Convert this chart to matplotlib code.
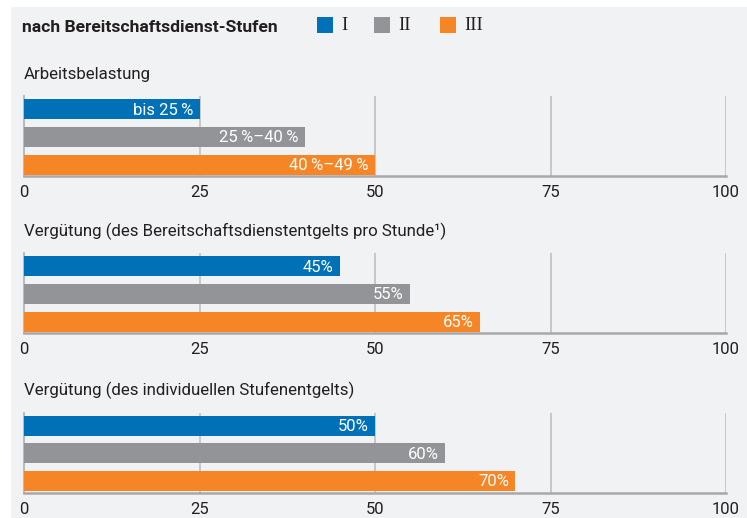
import matplotlib.pyplot as plt
from matplotlib.patches import Rectangle

# data
STUFEN = ["I", "II", "III"]
PANELS = ["Arbeitsbelastung",
          "Vergütung (des Bereitschaftsdienstentgelts pro Stunde\u00b9)",
          "Vergütung (des individuellen Stufenentgelts)"]
BELASTUNG = [25, 40, 50]
BELASTUNG_LBL = ["bis 25\u2009%", "25\u2009%\u201340\u2009%", "40\u2009%\u201349\u2009%"]
VERG_STUNDE = [45, 55, 65]
VERG_STUNDE_LBL = ["45%", "55%", "65%"]
VERG_STUFE = [50, 60, 70]
VERG_STUFE_LBL = ["50%", "60%", "70%"]
TICKS = [0, 25, 50, 75, 100]

COLORS = ["#0071b7", "#929497", "#f58525"]
BG = "#f1f2f4"
TXT = "#231f20"
FONT = ["Roboto", "DejaVu Sans"]

plt.rcParams['font.family'] = FONT

W, H = 747, 518
fig = plt.figure(figsize=(W / 100, H / 100), dpi=100)
fig.patch.set_facecolor("white")
fig.patches.append(Rectangle((11 / W, 0), 1 - 11 / W, 1 - 7 / H,
                             transform=fig.transFigure, facecolor=BG,
                             edgecolor="none", zorder=-10))

# header + legend
fig.text(22 / W, 1 - 27 / H, "nach Bereitschaftsdienst-Stufen", fontsize=12.6,
         fontweight="bold", color=TXT, va="center", ha="left")
leg_x = [317, 374, 440]
for x, c, s in zip(leg_x, COLORS, STUFEN):
    fig.patches.append(Rectangle((x / W, 1 - 33 / H), 16 / W, 16 / H,
                                 transform=fig.transFigure, facecolor=c,
                                 edgecolor="none"))
    fig.text((x + 24) / W, 1 - 26 / H, s, fontsize=13.5,
             family=["Liberation Serif", "DejaVu Serif"], color=TXT,
             va="center", ha="left")

# panels: (bottom px, values, labels)
panel_data = [(176, BELASTUNG, BELASTUNG_LBL),
              (333, VERG_STUNDE, VERG_STUNDE_LBL),
              (492.5, VERG_STUFE, VERG_STUFE_LBL)]

x0, x1 = 24, 726
for title, (bot, vals, lbls) in zip(PANELS, panel_data):
    ax = fig.add_axes([x0 / W, 1 - bot / H, (x1 - x0) / W, 80 / H])
    ax.set_facecolor("none")
    ypos = range(len(vals))
    ax.barh(ypos, vals, height=0.727, color=COLORS, zorder=3)
    for y, v, l in zip(ypos, vals, lbls):
        ax.text(v - 0.9, y + 0.03, l, color="white", fontsize=12,
                ha="right", va="center", zorder=4)
    ax.set_xlim(0, 100)
    ax.set_ylim(2.418, -0.49)
    ax.set_yticks([])
    ax.set_xticks(TICKS)
    ax.set_xticklabels([str(t) for t in TICKS], fontsize=12, color=TXT)
    ax.tick_params(axis="x", length=0, pad=6.5)
    for t in TICKS[1:]:
        ax.axvline(t, color="#c4c4c6", lw=1.3, zorder=1)
    for s in ["top", "right"]:
        ax.spines[s].set_visible(False)
    ax.spines["left"].set_color("#b4b4b6")
    ax.spines["left"].set_linewidth(1.3)
    ax.spines["bottom"].set_color("#a8a8aa")
    ax.spines["bottom"].set_linewidth(1.8)
    ax.text(0, 1 + 22 / 80, title, transform=ax.transAxes, fontsize=12.2,
            color=TXT, ha="left", va="center")

fig.savefig("out.png", dpi=100)
